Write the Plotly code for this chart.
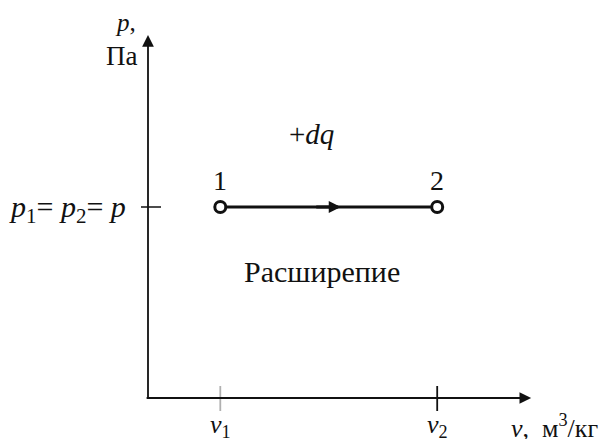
import plotly.graph_objects as go

# ---- data ----
state_labels = ["1", "2"]
v_states = [1.0, 4.0]          # v1, v2 (relative units)
p_states = [2.0, 2.0]          # p1 = p2 = p
v_tick_labels = ["<i>v</i><sub>1</sub>", "<i>v</i><sub>2</sub>"]
p_tick_label = "<i>p</i><sub>1</sub>= <i>p</i><sub>2</sub>= <i>p</i>"
v_axis_max = 5.3
p_axis_max = 3.80

W, H = 610, 439
PX_V = 72.3   # pixels per v unit
PX_P = 95.5   # pixels per p unit
ORIG_X, ORIG_Y = 148, 398
x_range = [-ORIG_X / PX_V, (W - ORIG_X) / PX_V]
y_range = [-(H - ORIG_Y) / PX_P, ORIG_Y / PX_P]

FONT = "Liberation Serif"
BLACK = "#111111"

fig = go.Figure()

# process line 1 -> 2
fig.add_trace(go.Scatter(
    x=v_states, y=p_states, mode="lines+markers",
    line=dict(color=BLACK, width=3),
    marker=dict(symbol="circle", size=11, color="white",
                line=dict(color=BLACK, width=3)),
    hoverinfo="skip", showlegend=False, cliponaxis=False,
))

ann = []
# axes with arrows
ann.append(dict(x=0, y=p_axis_max, ax=0, ay=-0.01, xref="x", yref="y",
                axref="x", ayref="y", text="", showarrow=True,
                arrowhead=2, arrowsize=1.3, arrowwidth=1.8, arrowcolor=BLACK))
ann.append(dict(x=v_axis_max, y=0, ax=-0.04, ay=0, xref="x", yref="y",
                axref="x", ayref="y", text="", showarrow=True,
                arrowhead=2, arrowsize=1.3, arrowwidth=1.8, arrowcolor=BLACK))
# direction arrow in the middle of the process line
mid_v = (v_states[0] + v_states[1]) / 2
ann.append(dict(x=mid_v, y=p_states[0], ax=-26, ay=0, xshift=12,
                xref="x", yref="y", text="", showarrow=True,
                arrowhead=2, arrowsize=0.8, arrowwidth=3, arrowcolor=BLACK))

# state labels
for v, p, lab in zip(v_states, p_states, state_labels):
    ann.append(dict(x=v, y=p, xref="x", yref="y", text=lab, showarrow=False,
                    yshift=27, font=dict(family=FONT, size=28, color=BLACK)))

# axis titles
ann.append(dict(x=0, y=3.93, xref="x", yref="y", text="<i>p</i>,",
                showarrow=False, xanchor="right", xshift=-10,
                font=dict(family=FONT, size=25, color=BLACK)))
ann.append(dict(x=0, y=3.585, xref="x", yref="y", text="Па",
                showarrow=False, xanchor="right", xshift=-9,
                font=dict(family=FONT, size=27, color=BLACK)))
ann.append(dict(x=v_axis_max, y=0, xref="x", yref="y",
                text="<i>v</i>,  м<sup>3</sup>/кг", showarrow=False,
                xanchor="left", yshift=-28, xshift=-22,
                font=dict(family=FONT, size=26, color=BLACK)))

# tick labels
for v, lab in zip(v_states, v_tick_labels):
    ann.append(dict(x=v, y=0, xref="x", yref="y", text=lab, showarrow=False,
                    yshift=-28, font=dict(family=FONT, size=26, color=BLACK)))
ann.append(dict(x=0, y=p_states[0], xref="x", yref="y", text=p_tick_label,
                showarrow=False, xanchor="right", xshift=-20, yshift=-2,
                font=dict(family=FONT, size=30, color=BLACK)))

# process annotations
ann.append(dict(x=2.26, y=2.76, xref="x", yref="y", text="+<i>dq</i>",
                showarrow=False, font=dict(family=FONT, size=29, color=BLACK)))
ann.append(dict(x=2.41, y=1.32, xref="x", yref="y", text="Расширепие",
                showarrow=False, font=dict(family=FONT, size=30, color=BLACK)))

# tick marks (data-anchored, pixel-sized)
shapes = []
shapes.append(dict(type="line", xref="x", yref="y", xsizemode="pixel",
                   xanchor=0, x0=-7, x1=13, y0=p_states[0], y1=p_states[0],
                   line=dict(color=BLACK, width=1.5)))
tick_cols = ["#b0b0b0", BLACK]
for v, c in zip(v_states, tick_cols):
    shapes.append(dict(type="line", xref="x", yref="y", ysizemode="pixel",
                       yanchor=0, y0=-13, y1=12, x0=v, x1=v,
                       line=dict(color=c, width=1.8)))

fig.update_layout(
    width=W, height=H, margin=dict(l=0, r=0, t=0, b=0),
    paper_bgcolor="white", plot_bgcolor="white",
    xaxis=dict(range=x_range, visible=False, fixedrange=True),
    yaxis=dict(range=y_range, visible=False, fixedrange=True),
    annotations=ann, shapes=shapes, showlegend=False,
    font=dict(family=FONT),
)

fig.write_html("out.html", config={"staticPlot": True, "displayModeBar": False},
               post_script="document.body.style.margin='0';"
                           "document.body.style.overflow='hidden';")
